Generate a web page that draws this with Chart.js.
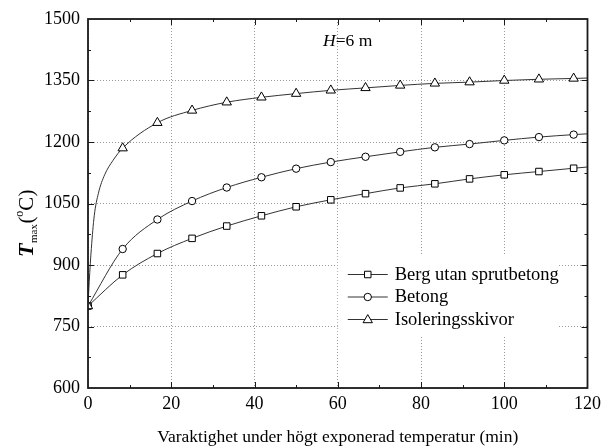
<!DOCTYPE html>
<html>
<head>
<meta charset="utf-8">
<script src="https://cdn.jsdelivr.net/npm/chart.js@4/dist/chart.umd.min.js"></script>
<style>
  html, body { margin: 0; padding: 0; background: #fff; }
  #wrap { width: 606px; height: 448px; position: relative; }
</style>
</head>
<body>
<div id="wrap"><canvas id="c" width="606" height="448"></canvas></div>
<script>
// ---- Data ----
const minutes = [0, 8.33, 16.67, 25, 33.33, 41.67, 50, 58.33, 66.67, 75, 83.33, 91.67, 100, 108.33, 116.67];
const bergUtanSprutbetong = [800, 876, 928, 965, 995, 1020, 1042, 1059, 1074, 1088, 1098, 1110, 1120, 1128, 1136];
const betong = [800, 939, 1011, 1056, 1089, 1114, 1135, 1151, 1164, 1176, 1187, 1195, 1204, 1212, 1218];
const isoleringsskivor = [800, 1185, 1247, 1277, 1297, 1309, 1318, 1326, 1332, 1338, 1343, 1346, 1350, 1353, 1355];
// unmarked points read along the steep start of the Isoleringsskivor curve
const isoleringEarlyMinutes = [0.3, 0.8, 1.5, 2.5, 4, 6];
const isoleringEarlyValues = [860, 940, 1020, 1075, 1120, 1155];
// where the curves meet the right edge (no marker)
const endMinute = 120;
const endValues = [1139, 1220, 1356];
const seriesNames = ['Berg utan sprutbetong', 'Betong', 'Isoleringsskivor'];
const xTicks = [0, 20, 40, 60, 80, 100, 120];
const yTicks = [600, 750, 900, 1050, 1200, 1350, 1500];
const xAxisTitle = 'Varaktighet under högt exponerad temperatur (min)';
const annotationText = ['H', '=6 m'];

const SERIF = "'Liberation Serif', 'Times New Roman', serif";
const styles = ['rect', 'circle', 'triangle'];
const radii = [4.6, 3.7, 5.4];

function build(vals, idx) {
  const pts = [];
  minutes.forEach((m, i) => {
    pts.push({x: m, y: vals[i], mk: true});
    if (idx === 2 && i === 0) {
      isoleringEarlyMinutes.forEach((em, j) => pts.push({x: em, y: isoleringEarlyValues[j], mk: false}));
    }
  });
  pts.push({x: endMinute, y: endValues[idx], mk: false});
  return pts;
}

const allSeries = [bergUtanSprutbetong, betong, isoleringsskivor];
const datasets = allSeries.map((vals, i) => ({
  label: seriesNames[i],
  data: build(vals, i),
  borderColor: '#333',
  borderWidth: 1,
  backgroundColor: '#fff',
  pointStyle: styles[i],
  pointRadius: ctx => (ctx.raw && ctx.raw.mk) ? radii[i] : 0,
  pointHoverRadius: 0,
  pointBorderColor: '#000',
  pointBackgroundColor: '#fff',
  pointBorderWidth: 1,
  cubicInterpolationMode: 'monotone',
  fill: false,
  order: 3 - i
}));

function drawMarker(ctx, style, x, y, r) {
  ctx.save();
  ctx.fillStyle = '#fff';
  ctx.strokeStyle = '#000';
  ctx.lineWidth = 1;
  ctx.beginPath();
  if (style === 'rect') {
    const s = Math.SQRT1_2 * r;
    ctx.rect(x - s, y - s, 2 * s, 2 * s);
  } else if (style === 'circle') {
    ctx.arc(x, y, r, 0, Math.PI * 2);
  } else {
    ctx.moveTo(x, y - r);
    ctx.lineTo(x + r * Math.sqrt(3) / 2, y + r / 2);
    ctx.lineTo(x - r * Math.sqrt(3) / 2, y + r / 2);
    ctx.closePath();
  }
  ctx.fill();
  ctx.stroke();
  ctx.restore();
}

const decor = {
  id: 'decor',
  afterDatasetsDraw(chart) {
    const ctx = chart.ctx;
    const xs = chart.scales.x;
    // legend box
    ctx.save();
    const lx = xs.getPixelForValue(60);
    ctx.fillStyle = '#fff';
    ctx.fillRect(lx, 255, 220, 80);
    const rows = [274.5, 297, 319.5];
    seriesNames.forEach((name, i) => {
      const y = rows[i];
      ctx.strokeStyle = '#333';
      ctx.lineWidth = 1;
      ctx.beginPath();
      ctx.moveTo(lx + 10, y);
      ctx.lineTo(lx + 50, y);
      ctx.stroke();
      drawMarker(ctx, styles[i], lx + 30, y + (i === 2 ? 0.5 : 0), radii[i]);
      ctx.fillStyle = '#000';
      ctx.font = '18.5px ' + SERIF;
      ctx.textAlign = 'left';
      ctx.textBaseline = 'middle';
      ctx.fillText(name, lx + 57, y + 0.5);
    });
    ctx.restore();
  },
  afterDraw(chart) {
    const ctx = chart.ctx;
    const a = chart.chartArea;
    const xs = chart.scales.x, ys = chart.scales.y;
    ctx.save();
    ctx.strokeStyle = '#1a1a1a';
    ctx.lineWidth = 1;
    // inward ticks
    ctx.beginPath();
    for (let v = 10; v < 120; v += 10) {
      const px = Math.round(xs.getPixelForValue(v)) + 0.5;
      const L = (v % 20 === 0) ? 6 : 3;
      ctx.moveTo(px, a.bottom); ctx.lineTo(px, a.bottom - L);
      ctx.moveTo(px, a.top); ctx.lineTo(px, a.top + L);
    }
    for (let v = 675; v < 1500; v += 75) {
      const py = Math.round(ys.getPixelForValue(v)) + 0.5;
      const L = ((v - 600) % 150 === 0) ? 6 : 3;
      ctx.moveTo(a.left, py); ctx.lineTo(a.left + L, py);
      ctx.moveTo(a.right, py); ctx.lineTo(a.right - L, py);
    }
    ctx.stroke();
    // frame
    ctx.lineWidth = 1.8;
    ctx.strokeRect(a.left, a.top, a.right - a.left, a.bottom - a.top);

    // y axis title: T_max (°C)
    ctx.fillStyle = '#000';
    ctx.translate(33, 257);
    ctx.rotate(-Math.PI / 2);
    ctx.textBaseline = 'alphabetic';
    ctx.textAlign = 'left';
    let x = 0;
    ctx.font = 'italic bold 22px ' + SERIF;
    ctx.fillText('T', x, 0); x += ctx.measureText('T').width + 0.5;
    ctx.font = '11px ' + SERIF;
    ctx.fillText('max', x, 4); x += ctx.measureText('max').width + 0.5;
    ctx.font = '21px ' + SERIF;
    ctx.fillText('(', x, 0); x += ctx.measureText('(').width;
    ctx.font = '12px ' + SERIF;
    ctx.fillText('o', x, -10); x += ctx.measureText('o').width;
    ctx.font = '21px ' + SERIF;
    ctx.fillText('C)', x, 0);
    ctx.restore();

    // annotation H=6 m
    ctx.save();
    ctx.fillStyle = '#000';
    ctx.textBaseline = 'middle';
    ctx.textAlign = 'left';
    let hx = 323;
    ctx.font = 'italic 17.5px ' + SERIF;
    ctx.fillText(annotationText[0], hx, 41); hx += ctx.measureText(annotationText[0]).width;
    ctx.font = '17.5px ' + SERIF;
    ctx.fillText(annotationText[1], hx, 41);
    ctx.restore();
  }
};

new Chart(document.getElementById('c'), {
  type: 'line',
  data: { datasets },
  options: {
    responsive: false,
    animation: false,
    devicePixelRatio: 1,
    layout: { padding: { top: 19, right: 14, left: 0, bottom: 0 } },
    plugins: { legend: { display: false }, tooltip: { enabled: false } },
    scales: {
      x: {
        type: 'linear', min: 0, max: 120,
        afterFit: s => { s.height = 60; },
        afterBuildTicks: s => { s.ticks = xTicks.map(v => ({value: v})); },
        ticks: { color: '#000', font: { family: SERIF, size: 18 }, padding: 5, maxRotation: 0, autoSkip: false, callback: v => String(v) },
        grid: { color: '#9a9a9a', lineWidth: 1, drawTicks: false },
        border: { display: false, dash: [1, 2] },
        title: { display: true, text: xAxisTitle, color: '#000', font: { family: SERIF, size: 17.5 }, padding: { top: 0, bottom: 0 } }
      },
      y: {
        type: 'linear', min: 600, max: 1500,
        afterFit: s => { s.width = 88; },
        afterBuildTicks: s => { s.ticks = yTicks.map(v => ({value: v})); },
        ticks: { color: '#000', font: { family: SERIF, size: 18 }, padding: 8, callback: v => String(v) },
        grid: { color: '#9a9a9a', lineWidth: 1, drawTicks: false },
        border: { display: false, dash: [1, 2] }
      }
    }
  },
  plugins: [decor]
});
</script>
</body>
</html>
